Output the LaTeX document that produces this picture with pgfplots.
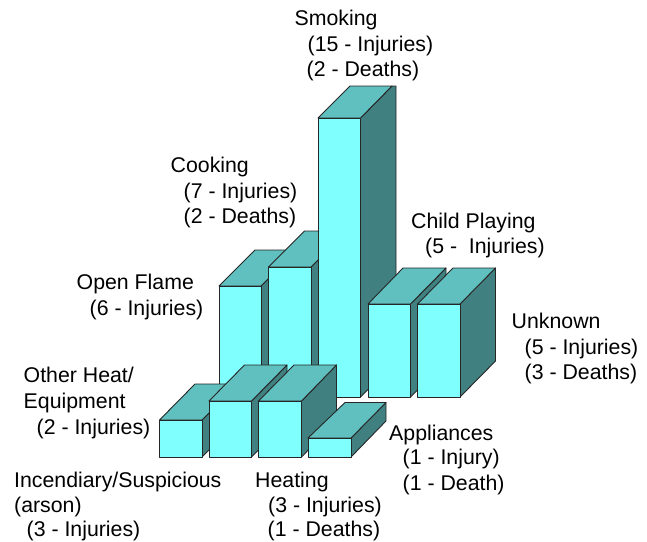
\documentclass[border=0pt]{standalone}
\usepackage{pgfplots}
\pgfplotsset{compat=1.18}
\usepackage{fontspec}
\setmainfont{Liberation Sans}

\definecolor{barfront}{HTML}{80FFFF}
\definecolor{bartop}{HTML}{60C0C0}
\definecolor{barside}{HTML}{408080}

\pgfplotsset{
  front/.style={fill=barfront,draw=black!85,line width=0.9pt,line join=round},
  top/.style={fill=bartop,draw=black!85,line width=0.9pt,line join=round},
  side/.style={fill=barside,draw=black!85,line width=0.9pt,line join=round},
}
% one text line of a label: left edge, baseline, text
\newcommand{\lab}[3]{\node[anchor=base west,inner sep=0pt,font=\fontsize{21.3}{21.3}\selectfont] at (axis cs:#1,#2) {#3};}

\begin{document}
\begin{tikzpicture}
\useasboundingbox (0,0) rectangle (647pt,541pt);
\begin{axis}[
  at={(0,0)}, anchor=south west,
  width=647pt, height=541pt,
  scale only axis,
  hide axis,
  xmin=0, xmax=647,
  ymin=0, ymax=541,
  y dir=reverse,
  clip=false,
]
% back row, left to right
% Open Flame (6)
\addplot[side] coordinates {(261,286) (297,250) (297,361) (261,397)} --cycle;
\addplot[top] coordinates {(219,286) (255,250) (297,250) (261,286)} --cycle;
\addplot[front] coordinates {(219,286) (261,286) (261,397) (219,397)} --cycle;
% Cooking (7)
\addplot[side] coordinates {(311,267) (347,231) (347,361) (311,397)} --cycle;
\addplot[top] coordinates {(268.5,267) (304.5,231) (347,231) (311,267)} --cycle;
\addplot[front] coordinates {(268.5,267) (311,267) (311,397) (268.5,397)} --cycle;
% Smoking (15), its far end cut off flat under the label
\addplot[side] coordinates {(360.5,118) (392,86) (396,86) (396,361) (360.5,397)} --cycle;
\addplot[top] coordinates {(318,118) (350,86) (392,86) (360.5,118)} --cycle;
\addplot[front] coordinates {(318,118) (360.5,118) (360.5,397) (318,397)} --cycle;
% Child Playing (5)
\addplot[side] coordinates {(410.5,304) (446,268) (446,361) (410.5,397)} --cycle;
\addplot[top] coordinates {(368,304) (403,268) (446,268) (410.5,304)} --cycle;
\addplot[front] coordinates {(368,304) (410.5,304) (410.5,397) (368,397)} --cycle;
% Unknown (5)
\addplot[side] coordinates {(460,304) (495.5,268) (495.5,361) (460,397)} --cycle;
\addplot[top] coordinates {(417.5,304) (453,268) (495.5,268) (460,304)} --cycle;
\addplot[front] coordinates {(417.5,304) (460,304) (460,397) (417.5,397)} --cycle;
% front row, left to right
% Other Heat/Equipment (2)
\addplot[side] coordinates {(202,420) (237.5,384) (237.5,421) (202,457)} --cycle;
\addplot[top] coordinates {(159.5,420) (195,384) (237.5,384) (202,420)} --cycle;
\addplot[front] coordinates {(159.5,420) (202,420) (202,457) (159.5,457)} --cycle;
% Incendiary/Suspicious (3)
\addplot[side] coordinates {(251.5,401) (287,365) (287,421) (251.5,457)} --cycle;
\addplot[top] coordinates {(209,401) (244.5,365) (287,365) (251.5,401)} --cycle;
\addplot[front] coordinates {(209,401) (251.5,401) (251.5,457) (209,457)} --cycle;
% Heating (3)
\addplot[side] coordinates {(301.5,401) (336.5,365) (336.5,421) (301.5,457)} --cycle;
\addplot[top] coordinates {(258.5,401) (294,365) (336.5,365) (301.5,401)} --cycle;
\addplot[front] coordinates {(258.5,401) (301.5,401) (301.5,457) (258.5,457)} --cycle;
% Appliances (1)
\addplot[side] coordinates {(351,438) (386,402.5) (386,421) (351,457)} --cycle;
\addplot[top] coordinates {(308,438) (345,402.5) (386,402.5) (351,438)} --cycle;
\addplot[front] coordinates {(308,438) (351,438) (351,457) (308,457)} --cycle;
% labels
\lab{294.5}{25}{Smoking}
\lab{307.5}{51}{(15 - Injuries)}
\lab{306.5}{76}{(2 - Deaths)}
\lab{170.5}{172}{Cooking}
\lab{183.5}{198}{(7 - Injuries)}
\lab{183.5}{223}{(2 - Deaths)}
\lab{411}{228}{Child Playing}
\lab{425}{253}{(5 -\ \ Injuries)}
\lab{76.5}{289}{Open Flame}
\lab{89.5}{315}{(6 - Injuries)}
\lab{511.5}{328}{Unknown}
\lab{524.5}{354}{(5 - Injuries)}
\lab{524.5}{379}{(3 - Deaths)}
\lab{23.5}{382}{Other Heat/}
\lab{23.5}{408}{Equipment}
\lab{36.5}{434}{(2 - Injuries)}
\lab{389}{440}{Appliances}
\lab{402.5}{464}{(1 - Injury)}
\lab{402.5}{490}{(1 - Death)}
\lab{14}{487}{Incendiary/Suspicious}
\lab{14}{512.5}{(arson)}
\lab{26.5}{536.3}{(3 - Injuries)}
\lab{255}{487}{Heating}
\lab{268}{512.5}{(3 - Injuries)}
\lab{267.5}{536.3}{(1 - Deaths)}
\end{axis}
\end{tikzpicture}
\end{document}
